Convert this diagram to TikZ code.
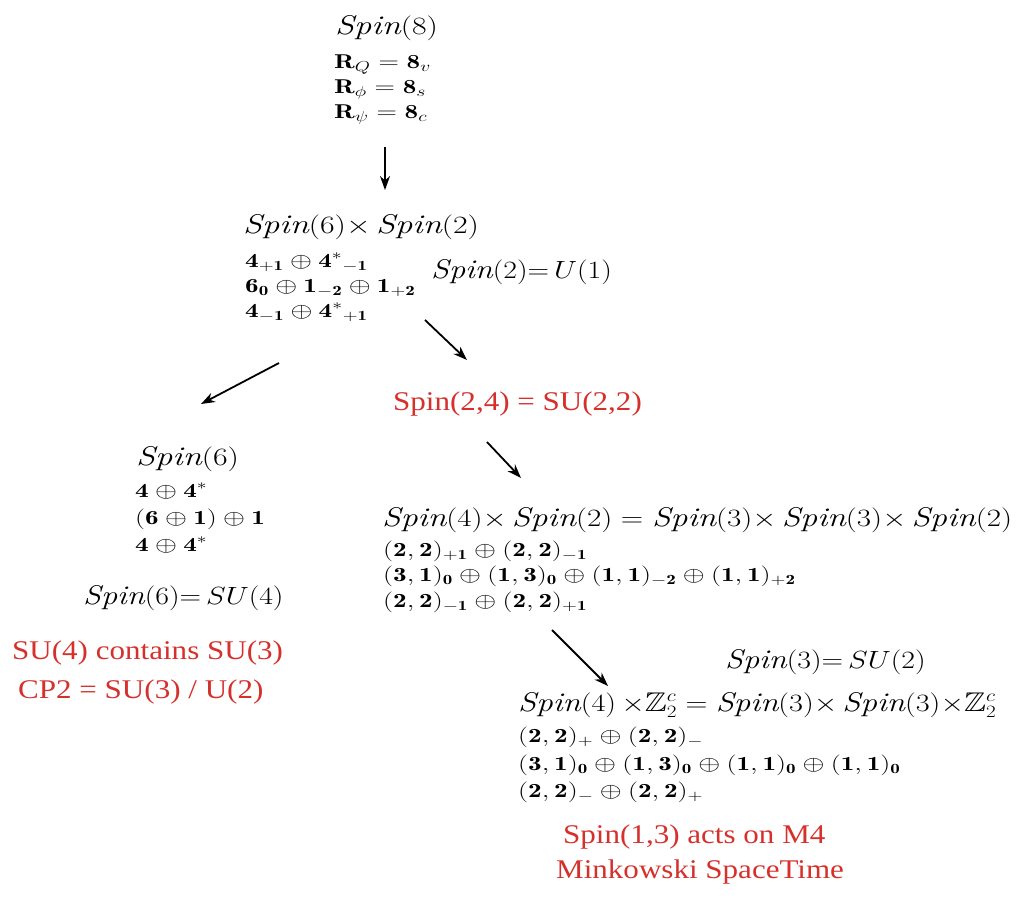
\documentclass[tikz,border=0pt]{standalone}
\usepackage{amsmath,amssymb}
\usepackage{fontspec}
\newfontfamily\redfont[FakeStretch=1.15]{Liberation Serif}
\usetikzlibrary{arrows.meta}
\definecolor{redtxt}{RGB}{214,48,44}
\newcommand\tsc[1]{\scalebox{1.28}[1]{#1}}
\newcommand\esc[1]{\scalebox{1.2}[1]{#1}}
\newcommand\rsc[1]{\scalebox{1.36}[1]{#1}}
\tikzset{
  ttl/.style={anchor=base west,inner sep=0pt,font=\fontsize{27}{31}\selectfont},
  rep/.style={anchor=base west,inner sep=0pt,font=\fontsize{20}{24}\selectfont},
  redlab/.style={anchor=base west,inner sep=0pt,text=redtxt,font=\redfont\fontsize{27}{31}\selectfont},
  arr/.style={-{Stealth[length=14pt,width=10pt]},line width=1.8pt}
}
\begin{document}
\begin{tikzpicture}[x=1pt,y=-1pt]
\useasboundingbox (0,0) rectangle (1021,903);
% Spin(8)
\node[ttl] (s8) at (335,34) {\tsc{$\mathit{Spin}(8)$}};
\node[rep] (s8a) at (334,68) {\rsc{$\mathbf{R}_Q=\mathbf{8}_v$}};
\node[rep] (s8b) at (334,93) {\rsc{$\mathbf{R}_\phi=\mathbf{8}_s$}};
\node[rep] (s8c) at (334,118) {\rsc{$\mathbf{R}_\psi=\mathbf{8}_c$}};
% Spin(6)xSpin(2)
\node[ttl] (s62) at (243,233) {\tsc{$\mathit{Spin}(6){\times}\,\mathit{Spin}(2)$}};
\node[rep] (s62a) at (245,267) {\rsc{$\mathbf{4}_{\mathbf{+1}}\oplus\mathbf{4}^{*}{}_{\mathbf{-1}}$}};
\node[rep] (s62b) at (245,292) {\rsc{$\mathbf{6}_{\mathbf{0}}\oplus\mathbf{1}_{\mathbf{-2}}\oplus\mathbf{1}_{\mathbf{+2}}$}};
\node[rep] (s62c) at (245,317) {\rsc{$\mathbf{4}_{\mathbf{-1}}\oplus\mathbf{4}^{*}{}_{\mathbf{+1}}$}};
\node[ttl,fill=white,inner sep=1pt] (u1) at (430,278) {\esc{$\mathit{Spin}(2){=}\,U(1)$}};
% red Spin(2,4)
\node[redlab] (s24) at (393,410) {Spin(2,4) = SU(2,2)};
% Spin(6)
\node[ttl] (s6) at (136,465) {\tsc{$\mathit{Spin}(6)$}};
\node[rep] (s6a) at (135,497) {\rsc{$\mathbf{4}\oplus\mathbf{4}^{*}$}};
\node[rep] (s6b) at (135,524) {\rsc{$(\mathbf{6}\oplus\mathbf{1})\oplus\mathbf{1}$}};
\node[rep] (s6c) at (135,551) {\rsc{$\mathbf{4}\oplus\mathbf{4}^{*}$}};
\node[ttl] (su4) at (83,604) {\esc{$\mathit{Spin}(6){=}\,SU(4)$}};
\node[redlab] (con) at (12,659) {SU(4) contains SU(3)};
\node[redlab] (cp2) at (18,698) {CP2 = SU(3) / U(2)};
% Spin(4)xSpin(2)
\node[ttl] (s42) at (382,526) {\scalebox{1.25}[1]{$\mathit{Spin}(4){\times}\,\mathit{Spin}(2)=\mathit{Spin}(3){\times}\,\mathit{Spin}(3){\times}\,\mathit{Spin}(2)$}};
\node[rep] (s42a) at (383,556) {\rsc{$(\mathbf{2},\mathbf{2})_{\mathbf{+1}}\oplus(\mathbf{2},\mathbf{2})_{\mathbf{-1}}$}};
\node[rep] (s42b) at (383,581) {\rsc{$(\mathbf{3},\mathbf{1})_{\mathbf{0}}\oplus(\mathbf{1},\mathbf{3})_{\mathbf{0}}\oplus(\mathbf{1},\mathbf{1})_{\mathbf{-2}}\oplus(\mathbf{1},\mathbf{1})_{\mathbf{+2}}$}};
\node[rep] (s42c) at (383,607) {\rsc{$(\mathbf{2},\mathbf{2})_{\mathbf{-1}}\oplus(\mathbf{2},\mathbf{2})_{\mathbf{+1}}$}};
% Spin(4)xZ2
\node[ttl] (su2) at (725,668) {\esc{$\mathit{Spin}(3){=}\,SU(2)$}};
\node[ttl] (s4z) at (518,711) {\scalebox{1.22}[1]{$\mathit{Spin}(4)\,{\times}\mathbb{Z}_2^c=\mathit{Spin}(3){\times}\,\mathit{Spin}(3){\times}\mathbb{Z}_2^c$}};
\node[rep] (s4za) at (518,742) {\rsc{$(\mathbf{2},\mathbf{2})_{\mathbf{+}}\oplus(\mathbf{2},\mathbf{2})_{\mathbf{-}}$}};
\node[rep] (s4zb) at (518,770) {\rsc{$(\mathbf{3},\mathbf{1})_{\mathbf{0}}\oplus(\mathbf{1},\mathbf{3})_{\mathbf{0}}\oplus(\mathbf{1},\mathbf{1})_{\mathbf{0}}\oplus(\mathbf{1},\mathbf{1})_{\mathbf{0}}$}};
\node[rep] (s4zc) at (518,797) {\rsc{$(\mathbf{2},\mathbf{2})_{\mathbf{-}}\oplus(\mathbf{2},\mathbf{2})_{\mathbf{+}}$}};
\node[redlab] (m4) at (563,843) {Spin(1,3) acts on M4};
\node[redlab] (mink) at (556,878) {Minkowski SpaceTime};
% arrows
\coordinate (a1s) at (385,147); \coordinate (a1e) at (385,190);
\coordinate (a2s) at (279,363); \coordinate (a2e) at (201,404);
\coordinate (a3s) at (425,320); \coordinate (a3e) at (467,360);
\coordinate (a4s) at (487,442); \coordinate (a4e) at (521,478);
\coordinate (a5s) at (552,630); \coordinate (a5e) at (608,686);
\draw[arr] (a1s) -- (a1e);
\draw[arr] (a2s) -- (a2e);
\draw[arr] (a3s) -- (a3e);
\draw[arr] (a4s) -- (a4e);
\draw[arr] (a5s) -- (a5e);
\end{tikzpicture}
\end{document}
